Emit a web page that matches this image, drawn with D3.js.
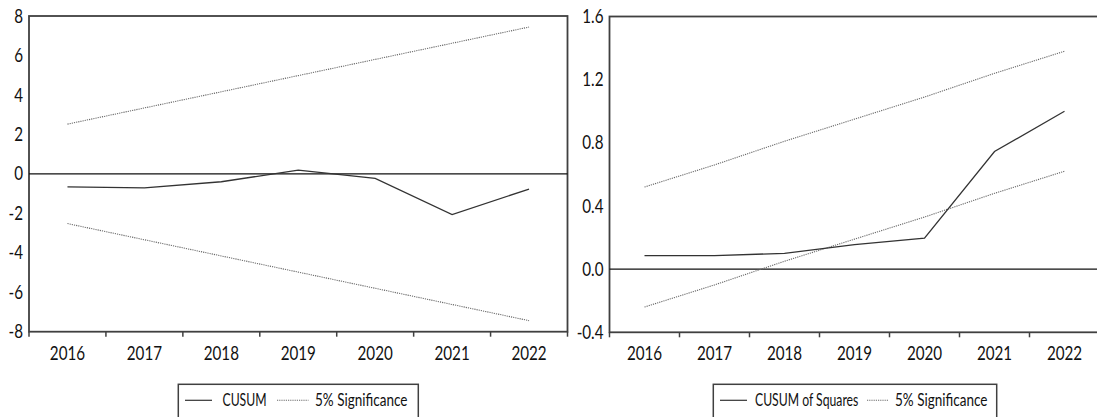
<!DOCTYPE html>
<html>
<head>
<meta charset="utf-8">
<script src="https://cdn.jsdelivr.net/npm/d3@7"></script>
<style>
  html, body { margin: 0; padding: 0; background: #fff; }
  svg { display: block; }
  text { font-family: Lato, "Open Sans", "Liberation Sans", sans-serif; fill: #111; }
</style>
</head>
<body>
<svg id="chart" width="1097" height="417"></svg>
<script>
// Years on the horizontal axis
const years = ["2016", "2017", "2018", "2019", "2020", "2021", "2022"];

// CUSUM test
const cusum = [-0.66, -0.71, -0.40, 0.19, -0.23, -2.06, -0.77];
const cusumUpper = [2.52, 3.34, 4.16, 4.98, 5.80, 6.62, 7.44];
const cusumLower = [-2.52, -3.34, -4.16, -4.98, -5.80, -6.62, -7.44];
const cusumTicks = [8, 6, 4, 2, 0, -2, -4, -6, -8];
const cusumTickLabels = ["8", "6", "4", "2", "0", "-2", "-4", "-6", "-8"];

// CUSUM of squares test
const cusumSq = [0.086, 0.086, 0.10, 0.155, 0.196, 0.745, 1.0];
const cusumSqUpper = [0.52, 0.66, 0.81, 0.95, 1.09, 1.24, 1.38];
const cusumSqLower = [-0.24, -0.10, 0.05, 0.19, 0.33, 0.48, 0.62];
const cusumSqTicks = [1.6, 1.2, 0.8, 0.4, 0.0, -0.4];
const cusumSqTickLabels = ["1.6", "1.2", "0.8", "0.4", "0.0", "-0.4"];

const svg = d3.select("#chart");
const frameColor = "#404040";
const squeeze = 0.8;        // narrow the axis glyphs horizontally
const nameSqueeze = 0.74;   // legend series name
const sigSqueeze = 0.82;    // legend significance label

function panel(cfg) {
  const g = svg.append("g");
  const x = d3.scaleBand().domain(years).range([cfg.left, cfg.right]).paddingInner(0).paddingOuter(0);
  const y = d3.scaleLinear().domain(cfg.domain).range([cfg.bottom, cfg.top]);
  const cx = d => x(d) + x.bandwidth() / 2;

  // frame
  g.append("rect")
    .attr("x", cfg.left).attr("y", cfg.top)
    .attr("width", cfg.right - cfg.left).attr("height", cfg.bottom - cfg.top)
    .attr("fill", "none").attr("stroke", frameColor).attr("stroke-width", 1.8);

  // zero line
  g.append("line")
    .attr("x1", cfg.left).attr("x2", cfg.right)
    .attr("y1", y(0)).attr("y2", y(0))
    .attr("stroke", "#111").attr("stroke-width", 1.3);

  // y axis labels
  const yAxis = d3.axisLeft(y).tickValues(cfg.ticks).tickSize(0).tickPadding(7.5)
    .tickFormat((d, i) => cfg.tickLabels[i]);
  const ya = g.append("g").attr("transform", `translate(${cfg.left},0)`).call(yAxis);
  ya.select(".domain").remove();
  ya.selectAll("text").attr("font-size", 19).attr("font-family", null).attr("fill", "#111")
    .attr("transform", `scale(${squeeze},1)`);

  // x axis labels centered in each year
  const xAxis = d3.axisBottom(x).tickSize(0).tickPadding(0);
  const xa = g.append("g").attr("transform", `translate(0,${cfg.bottom})`).call(xAxis);
  xa.select(".domain").remove();
  xa.selectAll("text").attr("font-size", 19).attr("font-family", null).attr("fill", "#111")
    .attr("dy", 0).attr("y", 28).attr("transform", `scale(${squeeze},1)`);

  // tick marks at year boundaries
  const bounds = years.map(d => x(d)).concat([x(years[years.length - 1]) + x.bandwidth()]);
  g.selectAll(".bt").data(bounds).join("line")
    .attr("x1", d => d).attr("x2", d => d)
    .attr("y1", cfg.bottom).attr("y2", cfg.bottom + 5)
    .attr("stroke", frameColor).attr("stroke-width", 1.5);

  const line = d3.line().x((d, i) => cx(years[i])).y(d => y(d));

  // significance bands
  [cfg.upper, cfg.lower].forEach(s => {
    g.append("path").attr("d", line(s)).attr("fill", "none")
      .attr("stroke", "#6a6a6a").attr("stroke-width", 1.1).attr("stroke-dasharray", "1.2,1");
  });
  // statistic
  g.append("path").attr("d", line(cfg.values)).attr("fill", "none")
    .attr("stroke", "#333").attr("stroke-width", 1.3);

  // legend
  const lg = cfg.legend;
  g.append("rect").attr("x", lg.x).attr("y", lg.y).attr("width", lg.w).attr("height", 40)
    .attr("fill", "none").attr("stroke", frameColor).attr("stroke-width", 1.5);
  g.append("line").attr("x1", lg.s1[0]).attr("x2", lg.s1[1]).attr("y1", lg.y + 16).attr("y2", lg.y + 16)
    .attr("stroke", "#333").attr("stroke-width", 1.2);
  g.append("text").attr("transform", `translate(${lg.t1},${lg.y + 21.5}) scale(${nameSqueeze},1)`)
    .attr("font-size", 16.5).text(cfg.name);
  g.append("line").attr("x1", lg.s2[0]).attr("x2", lg.s2[1]).attr("y1", lg.y + 16).attr("y2", lg.y + 16)
    .attr("stroke", "#6a6a6a").attr("stroke-width", 1.1).attr("stroke-dasharray", "1.2,1");
  g.append("text").attr("transform", `translate(${lg.t2},${lg.y + 21.5}) scale(${sigSqueeze},1)`)
    .attr("font-size", 16.5).text("5% Significance");
}

panel({
  left: 29, right: 567.5, top: 16, bottom: 331.7,
  domain: [-8, 8], ticks: cusumTicks, tickLabels: cusumTickLabels,
  values: cusum, upper: cusumUpper, lower: cusumLower, name: "CUSUM",
  legend: { x: 178.3, y: 384.3, w: 240, s1: [185, 212], t1: 222.5, s2: [277, 308.5], t2: 315 }
});

panel({
  left: 609.5, right: 1099.5, top: 16.5, bottom: 332.3,
  domain: [-0.4, 1.6], ticks: cusumSqTicks, tickLabels: cusumSqTickLabels,
  values: cusumSq, upper: cusumSqUpper, lower: cusumSqLower, name: "CUSUM of Squares",
  legend: { x: 713.3, y: 384.3, w: 283.4, s1: [720, 747], t1: 755, s2: [867, 888.5], t2: 895 }
});
</script>
</body>
</html>
